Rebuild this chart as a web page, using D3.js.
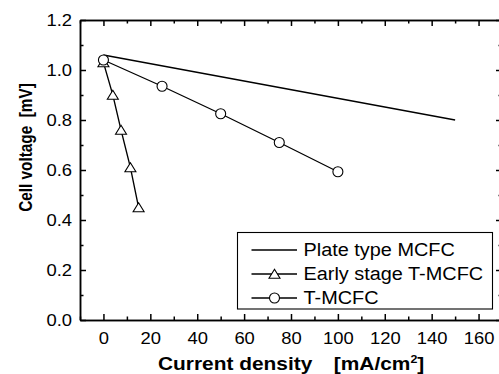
<!DOCTYPE html>
<html>
<head>
<meta charset="utf-8">
<script src="https://cdn.jsdelivr.net/npm/d3@7"></script>
<style>
  body { margin: 0; background: #fff; }
  svg { display: block; }
  .axis path, .axis line { stroke: #000; stroke-width: 1.5; }
  .axis text { font-family: "Liberation Sans", Arial, sans-serif; font-size: 16.3px; fill: #000; }
  .title { font-family: "Liberation Sans", Arial, sans-serif; font-weight: bold; white-space: pre; }
  .legend-text { font-family: "Liberation Sans", Arial, sans-serif; font-size: 17.6px; }
</style>
</head>
<body>
<div id="chart"></div>
<script>
// data
const plateX = [0, 150];
const plateY = [1.06, 0.80];
const earlyX = [0, 4, 7.5, 11.5, 15];
const earlyY = [1.03, 0.90, 0.76, 0.61, 0.45];
const tmcfcX = [0, 25, 50, 75, 100];
const tmcfcY = [1.04, 0.935, 0.825, 0.71, 0.593];

const xTicks = [0, 20, 40, 60, 80, 100, 120, 140, 160];
const xMinor = [-10, 10, 30, 50, 70, 90, 110, 130, 150, 170];
const yTicks = [0, 0.2, 0.4, 0.6, 0.8, 1.0, 1.2];
const yMinor = [0.1, 0.3, 0.5, 0.7, 0.9, 1.1];

const seriesNames = ["Plate type MCFC", "Early stage T-MCFC", "T-MCFC"];

const W = 499, H = 374;
const stretch = 1.13; // picture text is a bit wider than tall

const svg = d3.select("#chart").append("svg")
    .attr("width", W)
    .attr("height", H);

const x = d3.scaleLinear().domain([-10, 170]).range([80, 502]);
const y = d3.scaleLinear().domain([0, 1.2]).range([320, 20]);

// AXES (ticks point inward)
const xb = svg.append("g").attr("class", "axis")
    .attr("transform", `translate(0,${y(0)})`)
    .call(d3.axisBottom(x).tickValues(xTicks).tickSizeInner(-6).tickSizeOuter(0).tickPadding(12));
xb.selectAll("text").attr("transform", `scale(${stretch},1)`);

svg.append("g").attr("class", "axis")
    .attr("transform", `translate(0,${y(0)})`)
    .call(d3.axisBottom(x).tickValues(xMinor).tickSizeInner(-3.5).tickSizeOuter(0).tickFormat(""));

svg.append("g").attr("class", "axis")
    .attr("transform", `translate(0,${y(1.2)})`)
    .call(d3.axisTop(x).tickValues(xTicks).tickSizeInner(-6).tickSizeOuter(0).tickFormat(""));
svg.append("g").attr("class", "axis")
    .attr("transform", `translate(0,${y(1.2)})`)
    .call(d3.axisTop(x).tickValues(xMinor).tickSizeInner(-3.5).tickSizeOuter(0).tickFormat(""));

const yl = svg.append("g").attr("class", "axis")
    .attr("transform", `translate(${x(-10)},0)`)
    .call(d3.axisLeft(y).tickValues(yTicks).tickSizeInner(-6).tickSizeOuter(0).tickPadding(7).tickFormat(d3.format(".1f")));
yl.selectAll("text").attr("transform", `scale(${stretch},1)`);
svg.append("g").attr("class", "axis")
    .attr("transform", `translate(${x(-10)},0)`)
    .call(d3.axisLeft(y).tickValues(yMinor).tickSizeInner(-3.5).tickSizeOuter(0).tickFormat(""));

svg.append("g").attr("class", "axis")
    .attr("transform", `translate(${x(170)},0)`)
    .call(d3.axisRight(y).tickValues(yTicks).tickSizeInner(-6).tickSizeOuter(0).tickFormat(""));
svg.append("g").attr("class", "axis")
    .attr("transform", `translate(${x(170)},0)`)
    .call(d3.axisRight(y).tickValues(yMinor).tickSizeInner(-3.5).tickSizeOuter(0).tickFormat(""));

// axis titles
const xt = svg.append("text")
    .attr("class", "title")
    .attr("transform", `translate(158,370) scale(${stretch},1)`)
    .style("font-size", "18.5px");
xt.append("tspan").text("Current density");
xt.append("tspan").attr("dx", 19).text("[mA/cm");
xt.append("tspan").attr("dy", -7).style("font-size", "11px").text("2");
xt.append("tspan").attr("dy", 7).text("]");

svg.append("text")
    .attr("class", "title")
    .attr("transform", `translate(31.5,147.5) scale(${stretch},1) rotate(-90)`)
    .attr("text-anchor", "middle")
    .attr("textLength", 128.5)
    .attr("lengthAdjust", "spacingAndGlyphs")
    .style("font-size", "15.6px")
    .text("Cell voltage  [mV]");

// LINES
const line = d3.line().x(d => x(d[0])).y(d => y(d[1]));
const plate = d3.zip(plateX, plateY);
const early = d3.zip(earlyX, earlyY);
const tmcfc = d3.zip(tmcfcX, tmcfcY);

[plate, early, tmcfc].forEach(pts => {
    svg.append("path")
        .datum(pts)
        .attr("d", line)
        .attr("fill", "none")
        .attr("stroke", "#000")
        .attr("stroke-width", 1.3);
});

// markers
function triangle(g, cx, cy) {
    g.append("path")
        .attr("d", "M0,-4.7L5.5,4.3L-5.5,4.3Z")
        .attr("transform", `translate(${cx},${cy})`)
        .attr("fill", "#fff")
        .attr("stroke", "#000")
        .attr("stroke-width", 1.1);
}
function circle(g, cx, cy) {
    g.append("circle")
        .attr("cx", cx).attr("cy", cy).attr("r", 5)
        .attr("fill", "#fff")
        .attr("stroke", "#000")
        .attr("stroke-width", 1.1);
}
const mk = svg.append("g");
early.forEach(d => triangle(mk, x(d[0]), y(d[1])));
tmcfc.forEach(d => circle(mk, x(d[0]), y(d[1])));

// LEGEND
const lg = svg.append("g");
lg.append("rect")
    .attr("x", 237.5).attr("y", 232.5)
    .attr("width", 255).attr("height", 76.5)
    .attr("fill", "#fff")
    .attr("stroke", "#000")
    .attr("stroke-width", 1.1);

seriesNames.forEach((name, i) => {
    const cy = 250 + i * 24;
    lg.append("line")
        .attr("x1", 251.5).attr("x2", 297)
        .attr("y1", cy).attr("y2", cy)
        .attr("stroke", "#000")
        .attr("stroke-width", 1.3);
    if (i === 1) triangle(lg, 274.5, cy);
    if (i === 2) circle(lg, 274.5, cy);
    lg.append("text")
        .attr("class", "legend-text")
        .attr("transform", `translate(303.5,${cy + 6.3}) scale(${stretch},1)`)
        .text(name);
});
</script>
</body>
</html>
